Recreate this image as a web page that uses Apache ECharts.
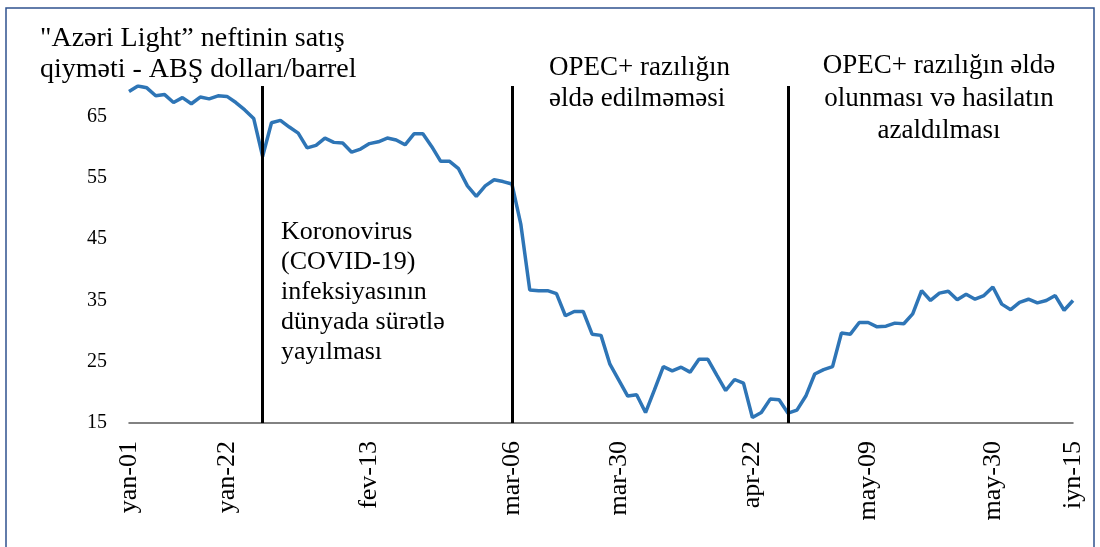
<!DOCTYPE html>
<html>
<head>
<meta charset="utf-8">
<style>
html, body { margin: 0; padding: 0; background: #fff; }
#main { width: 1100px; height: 547px; }
</style>
<script src="https://cdn.jsdelivr.net/npm/echarts@6/dist/echarts.min.js"></script>
</head>
<body>
<div id="main"></div>
<script>
// Azeri Light qiyməti, gündəlik (2020, yan-01 ... iyn-15)
var prices = [
    69.1, 70.0, 69.7, 68.4, 68.6, 67.3, 68.1, 67.1, 68.2, 67.9,
    68.4, 68.3, 67.3, 66.1, 64.7, 58.5, 64.0, 64.4, 63.3, 62.3,
    59.9, 60.3, 61.5, 60.8, 60.7, 59.2, 59.7, 60.6, 60.9, 61.5,
    61.2, 60.4, 62.2, 62.2, 60.1, 57.7, 57.7, 56.5, 53.7, 52.0,
    53.7, 54.7, 54.4, 54.0, 47.4, 36.7, 36.6, 36.6, 36.1, 32.5,
    33.2, 33.2, 29.5, 29.3, 24.6, 22.0, 19.4, 19.6, 16.7, 20.4,
    24.2, 23.5, 24.1, 23.3, 25.4, 25.4, 22.8, 20.3, 22.1, 21.5,
    15.9, 16.7, 18.9, 18.8, 16.6, 17.1, 19.4, 23.0, 23.7, 24.2,
    29.7, 29.5, 31.4, 31.4, 30.7, 30.8, 31.3, 31.2, 32.8, 36.6,
    35.0, 36.2, 36.5, 35.1, 36.0, 35.2, 35.8, 37.2, 34.4, 33.5,
    34.7, 35.2, 34.6, 35.0, 35.8, 33.4, 35.0
];
// hansı nöqtələrin altında tarix yazılıb
var tickIndex = [0, 11, 27, 43, 55, 70, 83, 97, 106];
var tickLabels = ['yan-01', 'yan-22', 'fev-13', 'mar-06', 'mar-30', 'apr-22', 'may-09', 'may-30', 'iyn-15'];
// hadisə xətləri
var eventIndex = [15, 43, 74];
var yTicks = [15, 25, 35, 45, 55, 65];

var categories = prices.map(function (v, i) {
    var k = tickIndex.indexOf(i);
    return k >= 0 ? tickLabels[k] : 'd' + i;
});

var serif = '"Liberation Serif", "Times New Roman", serif';

var myChart = echarts.init(document.getElementById('main'));
myChart.setOption({
    animation: false,
    grid: {
        left: 129,
        right: 27,
        top: 86,
        bottom: 124
    },
    xAxis: {
        type: 'category',
        boundaryGap: false,
        data: categories,
        axisLine: {lineStyle: {color: '#595959', width: 1.5}},
        axisTick: {show: false},
        axisLabel: {
            interval: function (index) { return tickIndex.indexOf(index) >= 0; },
            rotate: 90,
            margin: 18,
            padding: [9, 0, 0, 0],
            fontSize: 26,
            fontFamily: serif,
            color: '#000'
        },
        splitLine: {show: false}
    },
    yAxis: {
        type: 'value',
        min: 15,
        max: 70,
        interval: 5,
        axisLine: {show: false},
        axisTick: {show: false},
        splitLine: {show: false},
        axisLabel: {
            margin: 22,
            fontSize: 20,
            fontFamily: serif,
            color: '#000',
            formatter: function (v) { return yTicks.indexOf(v) >= 0 ? String(v) : ''; }
        }
    },
    series: [{
        type: 'line',
        data: prices,
        symbol: 'none',
        lineStyle: {color: '#2E75B6', width: 3.5},
        markLine: {
            silent: true,
            symbol: ['none', 'none'],
            label: {show: false},
            lineStyle: {color: '#000', width: 3, type: 'solid'},
            data: eventIndex.map(function (i) { return {xAxis: i}; })
        }
    }],
    graphic: [
        {
            type: 'rect',
            z: -1,
            shape: {x: 6, y: 8, width: 1088, height: 600},
            style: {fill: 'none', stroke: '#2F528F', lineWidth: 1.5}
        },
        {
            type: 'text',
            style: {
                text: '"Azəri Light” neftinin satış\nqiyməti - ABŞ dolları/barrel',
                x: 40, y: 23, font: '28px ' + serif, lineHeight: 31,
                fill: '#000', verticalAlign: 'top'
            }
        },
        {
            type: 'text',
            style: {
                text: 'Koronovirus\n(COVID-19)\ninfeksiyasının\ndünyada sürətlə\nyayılması',
                x: 281, y: 217, font: '26px ' + serif, lineHeight: 30,
                fill: '#000', verticalAlign: 'top'
            }
        },
        {
            type: 'text',
            style: {
                text: 'OPEC+ razılığın\nəldə edilməməsi',
                x: 549, y: 52, font: '27px ' + serif, lineHeight: 31,
                fill: '#000', verticalAlign: 'top'
            }
        },
        {
            type: 'text',
            style: {
                text: 'OPEC+ razılığın əldə\nolunması və hasilatın\nazaldılması',
                x: 939, y: 50, font: '27px ' + serif, lineHeight: 32.5,
                fill: '#000', align: 'center', verticalAlign: 'top'
            }
        }
    ]
});
</script>
</body>
</html>
